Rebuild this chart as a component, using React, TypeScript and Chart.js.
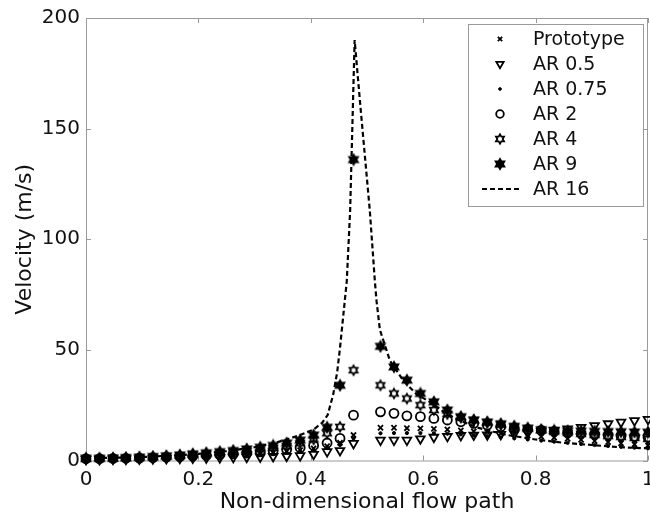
import React, { useEffect, useRef } from 'react';
import { Chart, registerables } from 'chart.js';
import { drawPoint } from 'chart.js/helpers';

Chart.register(...registerables);

// ---------- data ----------
const flowPath = [
  0, 0.024, 0.048, 0.071, 0.095, 0.119, 0.143, 0.167, 0.190, 0.214, 0.238,
  0.262, 0.286, 0.310, 0.333, 0.357, 0.381, 0.405, 0.429, 0.452, 0.476,
  0.524, 0.548, 0.571, 0.595, 0.619, 0.643, 0.667, 0.690, 0.714, 0.738,
  0.762, 0.786, 0.810, 0.833, 0.857, 0.881, 0.905, 0.929, 0.952, 0.976, 1.0,
];

const prototypeVel = [
  0.7, 0.7, 0.8, 0.9, 1.0, 1.1, 1.3, 1.5, 1.7, 1.9, 2.2, 2.5, 2.8, 3.2, 3.6, 4.1, 4.7, 5.5, 6.5, 8.0, 11.5,
  14.8, 14.8, 14.6, 14.5, 14.3, 14.0, 13.6, 13.2, 12.8, 12.3, 11.8, 11.3, 10.8, 10.3, 9.8, 9.3, 8.8, 8.3, 7.8, 7.3, 6.8,
];
const ar05Vel = [
  0.5, 0.5, 0.6, 0.6, 0.7, 0.8, 0.9, 1.0, 1.1, 1.2, 1.3, 1.4, 1.5, 1.6, 1.8, 1.9, 2.2, 2.8, 4.0, 4.5, 7.7,
  9.2, 9.2, 9.2, 9.8, 10.5, 10.9, 11.3, 11.5, 11.6, 11.8, 12.1, 12.5, 13.0, 13.6, 14.3, 15.0, 15.8, 16.6, 17.3, 18.0, 18.6,
];
const ar075Vel = [
  0.7, 0.7, 0.8, 0.8, 0.9, 1.0, 1.2, 1.3, 1.5, 1.7, 1.9, 2.2, 2.5, 2.8, 3.2, 3.6, 4.1, 4.8, 5.6, 7.0, 10.0,
  12.3, 12.4, 12.4, 12.4, 12.3, 12.1, 11.8, 11.4, 11.0, 10.5, 10.0, 9.5, 9.0, 8.5, 8.0, 7.5, 7.0, 6.6, 6.2, 5.8, 5.5,
];
const ar2Vel = [
  0.8, 0.8, 0.9, 1.0, 1.1, 1.3, 1.5, 1.7, 2.0, 2.3, 2.6, 3.0, 3.4, 3.9, 4.4, 5.0, 5.8, 6.8, 7.9, 10.0, 20.5,
  22.0, 21.3, 20.2, 19.8, 19.0, 18.3, 17.5, 16.8, 16.0, 15.3, 14.7, 14.1, 13.6, 13.1, 12.6, 12.2, 11.8, 11.4, 11.1, 10.8, 10.5,
];
const ar4Vel = [
  0.9, 0.9, 1.0, 1.1, 1.3, 1.5, 1.8, 2.1, 2.5, 2.9, 3.3, 3.8, 4.3, 5.0, 5.7, 6.5, 7.8, 9.5, 12.3, 15.2, 40.8,
  34.0, 30.3, 28.0, 25.0, 22.8, 21.0, 19.5, 18.3, 17.2, 16.2, 15.3, 14.5, 13.8, 13.1, 12.5, 12.0, 11.5, 11.0, 10.6, 10.2, 9.8,
];
const ar9Vel = [
  1.0, 1.0, 1.1, 1.3, 1.5, 1.8, 2.1, 2.5, 3.0, 3.5, 4.0, 4.5, 5.2, 6.0, 6.8, 7.9, 9.2, 11.5, 15.0, 34.0, 136.0,
  51.6, 42.3, 36.3, 30.3, 26.5, 22.8, 19.8, 18.3, 17.4, 16.6, 15.4, 14.6, 13.9, 13.6, 13.4, 13.3, 13.2, 13.1, 13.0, 12.9, 12.8,
];

const ar16Path = [
  0, 0.1, 0.2, 0.25, 0.3, 0.333, 0.357, 0.381, 0.405, 0.42, 0.43, 0.44, 0.447, 0.452,
  0.464, 0.47, 0.478, 0.489, 0.505, 0.514, 0.517, 0.523, 0.541, 0.565, 0.588, 0.615,
  0.642, 0.666, 0.695, 0.725, 0.75, 0.8, 0.85, 0.9, 0.95, 1.0,
];
const ar16Vel = [
  1.0, 1.5, 3.0, 4.2, 6.0, 7.7, 9.5, 11.5, 14.0, 17.0, 20.5, 30.0, 40.0, 51.0,
  81.0, 113.0, 190.0, 158.0, 113.0, 81.0, 72.0, 59.0, 45.0, 36.0, 30.0, 26.0,
  21.0, 18.0, 15.0, 13.0, 11.5, 9.5, 8.0, 7.0, 6.0, 5.5,
];

const xTickValues = [0, 0.2, 0.4, 0.6, 0.8, 1];
const xTickLabels = ['0', '0.2', '0.4', '0.6', '0.8', '1'];
const yTickValues = [0, 50, 100, 150, 200];
const yTickLabels = ['0', '50', '100', '150', '200'];

const seriesLabels = ['Prototype', 'AR 0.5', 'AR 0.75', 'AR 2', 'AR 4', 'AR 9', 'AR 16'];

// ---------- helpers ----------
const FONT = '"DejaVu Sans", sans-serif';
const TEXT = '#111';
const FRAME = '#9a9a9a';

function makeHexagram(filled: boolean, r: number): HTMLCanvasElement {
  const size = Math.ceil(r * 2 + 4);
  const c = document.createElement('canvas');
  c.width = size;
  c.height = size;
  const g = c.getContext('2d')!;
  const cx = size / 2;
  const cy = size / 2;
  g.beginPath();
  for (let i = 0; i < 12; i++) {
    const ang = -Math.PI / 2 + (i * Math.PI) / 6;
    const rr = i % 2 === 0 ? r : r * 0.577;
    const px = cx + rr * Math.cos(ang);
    const py = cy + rr * Math.sin(ang);
    if (i === 0) g.moveTo(px, py);
    else g.lineTo(px, py);
  }
  g.closePath();
  if (filled) {
    g.fillStyle = '#000';
    g.fill();
  }
  g.lineWidth = 1.8;
  g.strokeStyle = '#000';
  g.stroke();
  return c;
}

const pts = (xs: number[], ys: number[]) => xs.map((x, i) => ({ x, y: ys[i] }));

const framePlugin = {
  id: 'matlabFrame',
  beforeDatasetsDraw(chart: any) {
    const { ctx, chartArea: a, scales } = chart;
    ctx.save();
    ctx.strokeStyle = FRAME;
    ctx.lineWidth = 1;
    ctx.strokeRect(a.left + 0.5, a.top + 0.5, a.right - a.left - 1, a.bottom - a.top);
    ctx.beginPath();
    for (const v of xTickValues) {
      const px = Math.round(scales.x.getPixelForValue(v)) + 0.5;
      ctx.moveTo(px, a.bottom);
      ctx.lineTo(px, a.bottom - 5);
      ctx.moveTo(px, a.top);
      ctx.lineTo(px, a.top + 5);
    }
    for (const v of yTickValues) {
      const py = Math.round(scales.y.getPixelForValue(v)) + 0.5;
      ctx.moveTo(a.left, py);
      ctx.lineTo(a.left + 5, py);
      ctx.moveTo(a.right, py);
      ctx.lineTo(a.right - 5, py);
    }
    ctx.stroke();
    ctx.restore();
  },
};

const legendPlugin = {
  id: 'boxLegend',
  afterDatasetsDraw(chart: any) {
    const { ctx, chartArea: a } = chart;
    const right = a.right - 5;
    const left = right - 175;
    const top = a.top + 6;
    const bottom = top + 182;
    ctx.save();
    ctx.fillStyle = '#fff';
    ctx.fillRect(left, top, right - left, bottom - top);
    ctx.strokeStyle = FRAME;
    ctx.lineWidth = 1;
    ctx.strokeRect(left + 0.5, top + 0.5, right - left, bottom - top);
    ctx.font = `19px ${FONT}`;
    ctx.textBaseline = 'middle';
    ctx.textAlign = 'left';
    chart.data.datasets.forEach((ds: any, i: number) => {
      const cy = top + 15 + i * 25;
      const mx = left + 32;
      ctx.save();
      if (ds.showLine) {
        ctx.strokeStyle = '#000';
        ctx.lineWidth = 2.2;
        ctx.setLineDash(ds.borderDash || []);
        ctx.beginPath();
        ctx.moveTo(left + 14, cy);
        ctx.lineTo(left + 52, cy);
        ctx.stroke();
      } else {
        ctx.strokeStyle = '#000';
        ctx.fillStyle = ds.pointBackgroundColor;
        ctx.lineWidth = ds.pointBorderWidth;
        drawPoint(ctx, {
          pointStyle: ds.pointStyle,
          rotation: ds.pointRotation || 0,
          radius: ds.pointRadius * 0.85,
          borderWidth: ds.pointBorderWidth,
        } as any, mx, cy);
      }
      ctx.restore();
      ctx.fillStyle = TEXT;
      ctx.fillText(ds.label, left + 65, cy + 1);
    });
    ctx.restore();
  },
};

export default function App() {
  const ref = useRef<HTMLCanvasElement>(null);

  useEffect(() => {
    const canvas = ref.current!;
    const hexOpen = makeHexagram(false, 4.6);
    const hexFilled = makeHexagram(true, 5);

    const marker = (label: string, data: number[], style: any, radius: number, extra: any = {}) => ({
      label,
      data: pts(flowPath, data),
      showLine: false,
      pointStyle: style,
      pointRadius: radius,
      pointBorderWidth: 1.8,
      pointBorderColor: '#000',
      pointBackgroundColor: 'rgba(0,0,0,0)',
      borderColor: '#000',
      backgroundColor: 'rgba(0,0,0,0)',
      clip: false,
      ...extra,
    });

    const chart = new Chart(canvas, {
      type: 'scatter',
      data: {
        datasets: [
          marker(seriesLabels[0], prototypeVel, 'crossRot', 3.6),
          marker(seriesLabels[1], ar05Vel, 'triangle', 5, { pointRotation: 180 }),
          marker(seriesLabels[2], ar075Vel, 'circle', 1.6, { pointBackgroundColor: '#000', pointBorderWidth: 1 }),
          marker(seriesLabels[3], ar2Vel, 'circle', 4.5),
          marker(seriesLabels[4], ar4Vel, hexOpen, 5),
          marker(seriesLabels[5], ar9Vel, hexFilled, 5),
          {
            label: seriesLabels[6],
            data: pts(ar16Path, ar16Vel),
            showLine: true,
            borderColor: '#000',
            borderWidth: 2.2,
            borderDash: [5, 3],
            pointRadius: 0,
            fill: false,
            tension: 0,
            clip: false,
          },
        ] as any,
      },
      options: {
        responsive: false,
        animation: false,
        devicePixelRatio: 1,
        layout: { padding: { top: 17, right: 32, left: 0, bottom: 0 } },
        plugins: {
          legend: { display: false },
          tooltip: { enabled: false },
        },
        scales: {
          x: {
            type: 'linear',
            min: 0,
            max: 1,
            afterBuildTicks: (s: any) => {
              s.ticks = xTickValues.map((v) => ({ value: v }));
            },
            afterFit: (s: any) => {
              s.height = 59.5;
            },
            ticks: {
              autoSkip: false,
              maxRotation: 0,
              padding: 7,
              color: TEXT,
              font: { family: FONT, size: 20 },
              callback: (_v: any, i: number) => xTickLabels[i],
            },
            grid: { display: false, drawTicks: false },
            border: { display: false },
            title: {
              display: true,
              text: 'Non-dimensional flow path',
              color: TEXT,
              font: { family: FONT, size: 22 },
              padding: { top: 0, bottom: 5 },
            },
          },
          y: {
            type: 'linear',
            min: 0,
            max: 200,
            afterBuildTicks: (s: any) => {
              s.ticks = yTickValues.map((v) => ({ value: v }));
            },
            afterFit: (s: any) => {
              s.width = 86;
            },
            ticks: {
              autoSkip: false,
              padding: 6,
              color: TEXT,
              font: { family: FONT, size: 20 },
              callback: (_v: any, i: number) => yTickLabels[i],
            },
            grid: { display: false, drawTicks: false },
            border: { display: false },
            title: {
              display: true,
              text: 'Velocity (m/s)',
              color: TEXT,
              font: { family: FONT, size: 22 },
              padding: { top: 12, bottom: 0 },
            },
          },
        },
      } as any,
      plugins: [framePlugin, legendPlugin],
    });

    return () => chart.destroy();
  }, []);

  return (
    <div
      style={{
        position: 'fixed',
        left: 0,
        top: 0,
        width: 650,
        height: 520,
        overflow: 'hidden',
        background: '#fff',
      }}
    >
      <canvas ref={ref} width={680} height={520} style={{ display: 'block', width: 680, height: 520 }} />
    </div>
  );
}
